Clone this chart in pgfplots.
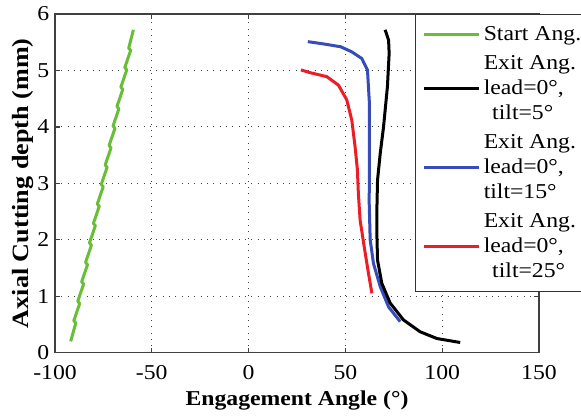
\documentclass[border=0pt]{standalone}
\usepackage{pgfplots}
\pgfplotsset{compat=1.18}
\usepackage{fontspec}
\setmainfont{Liberation Serif}[FakeStretch=1.12]
\definecolor{cgreen}{RGB}{105,190,55}
\definecolor{cblue}{RGB}{55,75,185}
\definecolor{cred}{RGB}{235,30,40}
\newcommand{\lentry}[3]{\vbox{\hbox{#1}\hbox{#2}\hbox{#3}}}
\begin{document}
\begin{tikzpicture}
\begin{axis}[name=ax, at={(0,0)}, anchor=south west,
 scale only axis, width=290.4pt, height=203.2pt,
 xmin=-100, xmax=150, ymin=0, ymax=6,
 xtick={-100,-50,0,50,100,150}, ytick={0,1,2,3,4,5,6},
 grid=major, grid style={black!75, line width=0.5pt, dash pattern=on 0.6pt off 3.2pt},
 axis line style={black!75, line width=1pt},
 tick style={black!75, line width=0.8pt}, major tick length=3pt,
 tick label style={font=\fontsize{12.7}{15}\selectfont, inner sep=0.5pt},
 xticklabel style={yshift=-6.7pt},
 yticklabel style={xshift=-2.7pt},
 /pgf/number format/assume math mode=true,
 xlabel={Engagement Angle (°)}, ylabel={Axial Cutting depth (mm)},
 xlabel style={font=\fontsize{12.7}{15}\selectfont\bfseries, yshift=-3pt},
 ylabel style={font=\fontsize{14}{16}\selectfont\bfseries, yshift=-1.5pt},
 legend style={at={(0.744,1)}, anchor=north west, draw=black!80, line width=0.8pt, fill=white,
   font=\fontsize{12.7}{15}\selectfont, row sep=3.5pt, inner xsep=4pt, inner ysep=5pt},
 legend cell align=left,
 legend image code/.code={\draw[#1, line width=1.8pt] (0pt,0pt) -- (33pt,0pt);},
 every axis plot/.append style={line width=1.8pt, line join=round},
]
\addlegendimage{cgreen}
\addlegendentry{Start Ang.}
\addlegendimage{black}
\addlegendentry{\lentry{Exit Ang.}{lead=0°,}{\hspace{0.4em}tilt=5°}}
\addlegendimage{cblue}
\addlegendentry{\lentry{Exit Ang.}{lead=0°,}{tilt=15°}}
\addlegendimage{cred}
\addlegendentry{\lentry{Exit Ang.}{lead=0°,}{\hspace{0.4em}tilt=25°}}

% Start angle
\addplot[cgreen, forget plot] coordinates {
(-91.90,0.200)
(-89.28,0.525) (-90.28,0.565)
(-87.25,0.870) (-88.25,0.910)
(-85.23,1.215) (-86.23,1.255)
(-83.20,1.560) (-84.20,1.600)
(-81.18,1.905) (-82.18,1.945)
(-79.15,2.250) (-80.15,2.290)
(-77.13,2.595) (-78.13,2.635)
(-75.10,2.940) (-76.10,2.980)
(-73.08,3.285) (-74.08,3.325)
(-71.05,3.630) (-72.05,3.670)
(-69.03,3.975) (-70.03,4.015)
(-67.00,4.320) (-68.00,4.360)
(-64.98,4.665) (-65.98,4.705)
(-62.95,5.010) (-63.95,5.050)
(-60.93,5.355) (-61.93,5.395)
(-59.50,5.720)
};
% tilt = 15
\addplot[cblue, forget plot] coordinates {
(30.6,5.51) (38.7,5.47) (47.5,5.42) (53.3,5.33) (58.5,5.21) (61.4,5.01)
(62.4,4.42) (62.4,3.53) (62.3,2.65) (62.8,2.00) (64.5,1.58) (68.0,1.17)
(72.3,0.81) (78.3,0.55)
};
% tilt = 5
\addplot[black, forget plot] coordinates {
(70.5,5.72) (72.3,5.54) (72.6,5.30) (71.7,4.71) (69.7,4.00) (68.0,3.53)
(66.6,3.06) (66.3,2.59) (66.3,2.05) (66.6,1.64) (68.8,1.23) (73.1,0.88)
(80.0,0.58) (88.6,0.37) (97.3,0.25) (109.3,0.18)
};
% tilt = 25
\addplot[cred, forget plot] coordinates {
(27.0,5.01) (31.8,4.96) (40.4,4.89) (46.4,4.74) (50.7,4.48) (53.3,4.12)
(55.0,3.65) (56.2,3.24) (56.7,2.82) (57.6,2.35) (59.7,1.88) (61.9,1.41)
(63.7,1.05)
};
\end{axis}
\pgfresetboundingbox
\path[use as bounding box] ([xshift=-33pt,yshift=-38.6pt]ax.south west) rectangle ([xshift=25.2pt,yshift=8.4pt]ax.north east);
\end{tikzpicture}
\end{document}
